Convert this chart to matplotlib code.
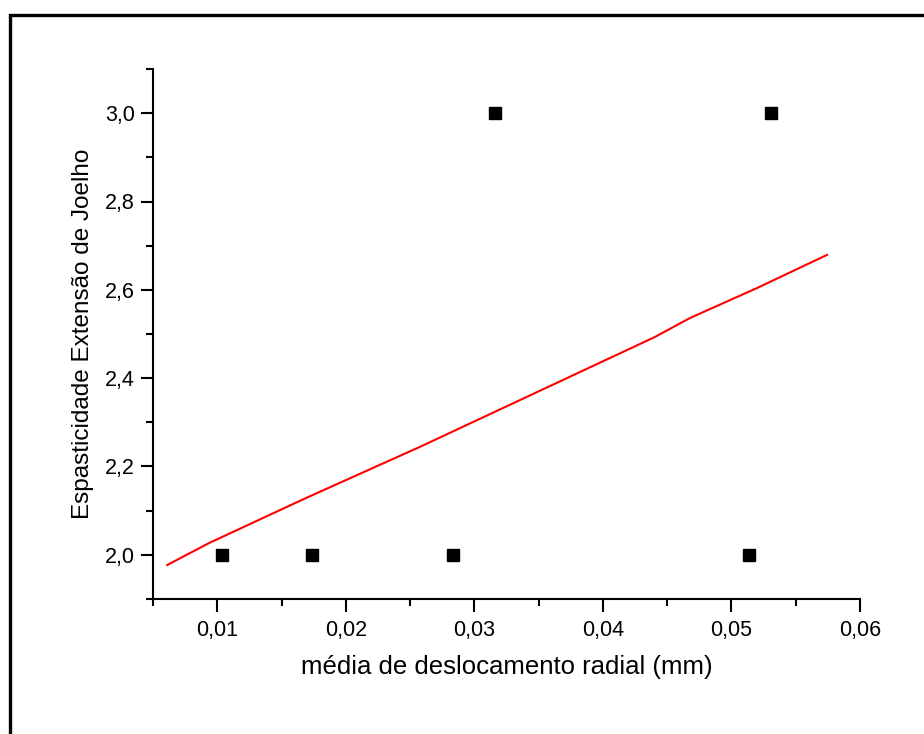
import matplotlib.pyplot as plt
from matplotlib.patches import Rectangle
from matplotlib.ticker import MultipleLocator, FuncFormatter

# scatter data
x_points = [0.0104, 0.0174, 0.0283, 0.0316, 0.0514, 0.0531]
y_points = [2.0, 2.0, 2.0, 3.0, 2.0, 3.0]

# red fitted curve
x_curve = [0.00611, 0.00938, 0.01693, 0.02573, 0.03609, 0.04403, 0.04676,
           0.05198, 0.05743]
y_curve = [1.977, 2.027, 2.129, 2.244, 2.385, 2.493, 2.536, 2.604, 2.679]

plt.rcParams["font.family"] = ["Liberation Sans", "DejaVu Sans"]

fig = plt.figure(figsize=(9.24, 7.34), dpi=100)
ax = fig.add_axes([153 / 924, 1 - 599 / 734, (860 - 153) / 924, (599 - 69) / 734])

ax.plot(x_curve, y_curve, color="red", linewidth=1.5)
ax.plot(x_points, y_points, linestyle="none", marker="s", markersize=8.5,
        color="black")

ax.set_xlim(0.005, 0.06)
ax.set_ylim(1.9, 3.1)

for side in ("top", "right"):
    ax.spines[side].set_visible(False)
for side in ("left", "bottom"):
    ax.spines[side].set_linewidth(1.5)

comma = lambda fmt: FuncFormatter(lambda v, _: (fmt % v).replace(".", ","))
ax.xaxis.set_major_locator(MultipleLocator(0.01))
ax.xaxis.set_minor_locator(MultipleLocator(0.005))
ax.xaxis.set_major_formatter(comma("%.2f"))
ax.yaxis.set_major_locator(MultipleLocator(0.2))
ax.yaxis.set_minor_locator(MultipleLocator(0.1))
ax.yaxis.set_major_formatter(comma("%.1f"))

ax.tick_params(which="major", direction="out", length=9, width=1.5,
               labelsize=15.5, pad=4)
ax.tick_params(which="minor", direction="out", length=5, width=1.5)
ax.tick_params(axis="x", which="major", pad=6)

ax.set_xlabel("média de deslocamento radial (mm)", fontsize=18.5, labelpad=10)
ax.set_ylabel("Espasticidade Extensão de Joelho", fontsize=17.5, labelpad=8)

# outer frame, running off the right and bottom edges
fig.add_artist(Rectangle((9.5 / 924, -0.1), 1.2, 1 - 14.5 / 734 + 0.1,
                         transform=fig.transFigure, fill=False,
                         edgecolor="black", linewidth=2.4, clip_on=False))

fig.savefig("out.png", dpi=100)
